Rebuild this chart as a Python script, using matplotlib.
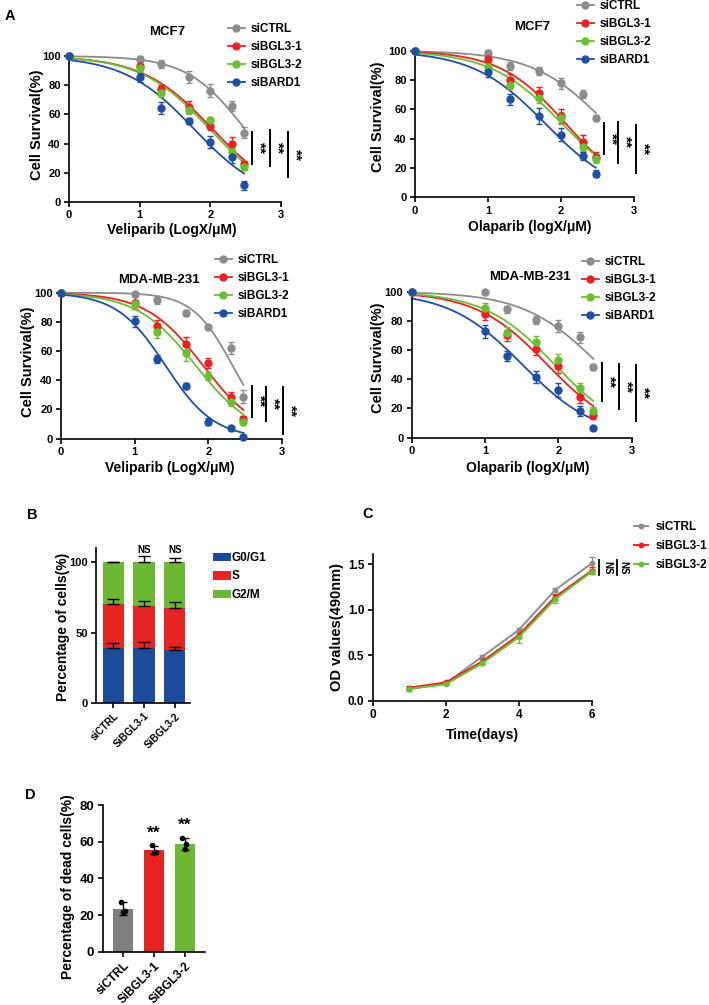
import numpy as np
import matplotlib
matplotlib.use('Agg')
import matplotlib.pyplot as plt
from matplotlib.lines import Line2D

# ---------------- data ----------------
dose_log = [0, 1, 1.301, 1.699, 2, 2.301, 2.477]
series_labels = ['siCTRL', 'siBGL3-1', 'siBGL3-2', 'siBARD1']

# rows: siCTRL, siBGL3-1, siBGL3-2, siBARD1
veli_mcf7 = [[100, 97.9, 94.5, 85.8, 76.2, 65.7, 47.6],
             [100, 93.4, 77.1, 65.2, 52.2, 40.0, 26.3],
             [100, 92.0, 75.0, 63.0, 56.0, 34.0, 24.0],
             [100, 85.4, 64.5, 55.4, 41.2, 30.9, 11.4]]
veli_mcf7_err = [[0.5, 2.0, 3.0, 4.0, 4.5, 3.5, 4.0],
                 [0.5, 2.5, 3.0, 4.0, 3.0, 4.5, 2.0],
                 [0.5, 2.0, 3.0, 3.0, 2.0, 3.0, 2.0],
                 [0.5, 3.0, 4.0, 2.0, 4.0, 4.0, 3.0]]

ola_mcf7 = [[100, 98.6, 89.5, 86.1, 77.7, 70.5, 54.1],
            [100, 94.3, 80.0, 70.9, 55.5, 38.0, 27.7],
            [100, 89.0, 76.6, 67.5, 54.3, 34.5, 26.4],
            [100, 85.7, 66.8, 55.5, 42.7, 28.2, 16.1]]
ola_mcf7_err = [[0.5, 2.0, 2.5, 3.0, 4.0, 3.0, 2.0],
                [0.5, 3.0, 4.0, 4.0, 4.5, 4.5, 3.0],
                [0.5, 3.0, 3.0, 3.0, 4.0, 3.0, 3.0],
                [0.5, 3.5, 4.0, 5.5, 4.5, 3.0, 2.5]]

veli_mda = [[100, 99.0, 95.0, 86.3, 76.5, 61.9, 28.8],
            [100, 93.0, 77.5, 65.0, 51.8, 28.3, 13.5],
            [100, 92.0, 73.0, 58.4, 42.9, 25.3, 11.2],
            [100, 80.3, 54.6, 36.3, 11.6, 7.5, 1.4]]
veli_mda_err = [[0.5, 1.5, 3.0, 2.0, 1.5, 4.0, 4.5],
                [0.5, 4.0, 4.0, 4.5, 3.5, 4.0, 2.0],
                [0.5, 3.0, 4.0, 5.0, 3.0, 3.0, 1.5],
                [0.5, 4.0, 3.0, 2.0, 2.5, 1.5, 1.0]]

ola_mda = [[100, 99.5, 87.9, 80.6, 76.5, 68.7, 48.6],
           [100, 84.5, 70.1, 60.7, 49.1, 28.1, 15.5],
           [100, 88.6, 72.0, 65.3, 53.2, 34.2, 18.3],
           [100, 73.0, 56.2, 41.8, 32.6, 18.3, 6.4]]
ola_mda_err = [[0.5, 1.5, 2.5, 2.5, 4.0, 3.5, 2.0],
               [0.5, 4.0, 4.0, 4.0, 4.5, 4.5, 3.0],
               [0.5, 3.5, 3.5, 4.5, 4.0, 3.0, 3.0],
               [0.5, 4.5, 3.5, 4.0, 5.0, 3.5, 1.0]]

cycle_groups = ['siCTRL', 'SiBGL3-1', 'SiBGL3-2']
cycle_phases = ['G0/G1', 'S', 'G2/M']
g0g1 = [39.2, 38.7, 37.3]
s_phase = [31.1, 30.4, 30.4]
g2m = [29.7, 30.9, 32.3]
g0g1_err = [3.6, 4.5, 2.1]
s_err = [3.3, 3.1, 4.3]
g2m_err = [0.5, 4.8, 2.9]

days = [1, 2, 3, 4, 5, 6]
growth_labels = ['siCTRL', 'siBGL3-1', 'siBGL3-2']
od_ctrl = [0.128, 0.19, 0.483, 0.776, 1.215, 1.507]
od_bgl1 = [0.143, 0.20, 0.43, 0.72, 1.14, 1.427]
od_bgl2 = [0.13, 0.18, 0.41, 0.695, 1.115, 1.416]
od_ctrl_err = [0.02, 0.01, 0.02, 0.02, 0.02, 0.07]
od_bgl1_err = [0.02, 0.02, 0.03, 0.03, 0.03, 0.04]
od_bgl2_err = [0.01, 0.01, 0.02, 0.06, 0.04, 0.03]

dead_groups = ['siCTRL', 'SiBGL3-1', 'SiBGL3-2']
dead_mean = [23.5, 55.6, 58.9]
dead_err = [3.5, 2.3, 3.3]
dead_pts = [[27.0, 22.0, 21.5], [58.2, 54.5, 54.0], [62.2, 58.6, 55.8]]

# ---------------- style ----------------
GREY = '#8c8c8c'
RED = '#e8231f'
GREEN = '#6dbd33'
BLUE = '#1f4fa3'
line_colors = [GREY, RED, GREEN, BLUE]
phase_colors = ['#1c4b9c', '#e52521', '#6cb832']
dead_colors = ['#7f7f7f', '#e8231f', '#6cb832']

plt.rcParams['font.family'] = ['Liberation Sans', 'DejaVu Sans']
plt.rcParams['font.weight'] = 'bold'
plt.rcParams['axes.labelweight'] = 'bold'
plt.rcParams['axes.linewidth'] = 1.2
for a in ('xtick', 'ytick'):
    plt.rcParams[a + '.major.width'] = 1.2
    plt.rcParams[a + '.major.size'] = 3.5
    plt.rcParams[a + '.labelsize'] = 8
    plt.rcParams[a + '.major.pad'] = 2.5

W, H = 709, 1005
fig = plt.figure(figsize=(W / 100, H / 100), dpi=100)


def add_ax(x0, x1, yb, yt):
    ax = fig.add_axes([x0 / W, 1 - yb / H, (x1 - x0) / W, (yb - yt) / H])
    ax.spines['top'].set_visible(False)
    ax.spines['right'].set_visible(False)
    return ax


def fpos(x, y):
    return (x / W, 1 - y / H)


def ftext(x, y, s, **kw):
    fig.text(x / W, 1 - y / H, s, **kw)


def set_labels(ax, xl, xpos, yl, ypos, xfs=10, yfs=10.5):
    if xl is not None:
        ax.set_xlabel(xl, fontsize=xfs, fontweight='bold')
        ax.xaxis.set_label_coords(*fpos(*xpos), transform=fig.transFigure)
        ax.xaxis.label.set_va('center')
    ax.set_ylabel(yl, fontsize=yfs, fontweight='bold')
    ax.yaxis.set_label_coords(*fpos(*ypos), transform=fig.transFigure)
    ax.yaxis.label.set_va('center')
    ax.yaxis.label.set_ha('center')


def noclip(container):
    for part in container.lines:
        if part is None:
            continue
        if isinstance(part, (tuple, list)):
            for p in part:
                p.set_clip_on(False)
        else:
            part.set_clip_on(False)


def logistic(x, c, h):
    return 100.0 / (1.0 + 10.0 ** ((x - c) * h))


def fit_logistic(x, y):
    x = np.asarray(x, float)
    y = np.asarray(y, float)
    cs = np.linspace(0.5, 4.5, 401)
    hs = np.linspace(0.2, 3.0, 281)
    C, Hh = np.meshgrid(cs, hs)
    pred = logistic(x[None, None, :], C[..., None], Hh[..., None])
    sse = ((pred - y[None, None, :]) ** 2).sum(-1)
    i = np.unravel_index(np.argmin(sse), sse.shape)
    return C[i], Hh[i]


def dose_panel(ax, data, err, xlabel, xlab_xy, ylab_xy, title, title_xy,
               legend_xy, sig_x, sig_lo, sig_hi):
    xs = np.array(dose_log)
    xx = np.linspace(0, xs[-1], 200)
    for vals, e, c in zip(data, err, line_colors):
        cc, hh = fit_logistic(xs, vals)
        ax.plot(xx, logistic(xx, cc, hh), color=c, lw=1.3, zorder=2, clip_on=False)
        eb = ax.errorbar(xs, vals, yerr=e, fmt='o', color=c, ms=5, capsize=2.5,
                         elinewidth=1.0, capthick=1.0, zorder=3)
        noclip(eb)
    ax.set_xlim(0, 3)
    ax.set_ylim(0, 100)
    ax.set_xticks([0, 1, 2, 3])
    ax.set_yticks([0, 20, 40, 60, 80, 100])
    set_labels(ax, xlabel, xlab_xy, 'Cell Survival(%)', ylab_xy)
    ftext(*title_xy, title, fontsize=9.5, fontweight='bold', ha='center', va='center')
    handles = [Line2D([], [], color=c, marker='o', ms=5, lw=1.3) for c in line_colors]
    ax.legend(handles, series_labels, loc='upper left', bbox_to_anchor=fpos(*legend_xy),
              bbox_transform=fig.transFigure, frameon=False, fontsize=8.5,
              handlelength=1.4, handletextpad=0.5, labelspacing=0.5,
              borderpad=0, borderaxespad=0)
    for sx, lo, hi in zip(sig_x, sig_lo, sig_hi):
        ax.plot([sx, sx], [lo, hi], color='black', lw=1.4, clip_on=False)
        ax.text(sx + 0.1, (lo + hi) / 2, '**', rotation=270, ha='center', va='center',
                fontsize=11, fontweight='bold', clip_on=False)


# ---------------- Panel A ----------------
ax1 = add_ax(69, 281, 202, 56)
dose_panel(ax1, veli_mcf7, veli_mcf7_err, 'Veliparib (LogX/μM)', (172, 230), (37, 125),
           'MCF7', (167, 32), (228, 23),
           [2.59, 2.845, 3.10], [26.0, 24.7, 17.1], [47.9, 49.3, 47.9])

ax2 = add_ax(415, 634, 197.3, 50.7)
dose_panel(ax2, ola_mcf7, ola_mcf7_err, 'Olaparib (logX/μM)', (530, 227), (378, 117),
           'MCF7', (532, 27), (577, 0),
           [2.59, 2.78, 3.03], [29.5, 23.4, 16.6], [50.7, 51.4, 49.3])

ax3 = add_ax(61, 282, 438.7, 292.7)
dose_panel(ax3, veli_mda, veli_mda_err, 'Veliparib (LogX/μM)', (170, 468), (28, 362),
           'MDA-MB-231', (159, 280), (215, 254),
           [2.59, 2.78, 3.01], [14.9, 11.8, 3.2], [36.3, 35.6, 35.4])

ax4 = add_ax(411.7, 631.7, 437.7, 291.7)
dose_panel(ax4, ola_mda, ola_mda_err, 'Olaparib (logX/μM)', (528, 468), (378, 358),
           'MDA-MB-231', (530, 277), (582, 256),
           [2.60, 2.83, 3.06], [25.1, 19.6, 11.4], [51.4, 50.5, 49.8])

ftext(5, 16, 'A', fontsize=10.5, fontweight='bold', ha='left', va='center')

# ---------------- Panel B ----------------
axb = add_ax(96, 190, 702.7, 548.3)
xb = np.arange(len(cycle_groups))
bot = np.zeros(len(cycle_groups))
for vals, errs, c, lab in zip([g0g1, s_phase, g2m], [g0g1_err, s_err, g2m_err],
                              phase_colors, cycle_phases):
    vals = np.array(vals)
    axb.bar(xb, vals, bottom=bot, width=0.69, color=c, label=lab, zorder=2)
    top = bot + vals
    axb.errorbar(xb, top, yerr=[np.zeros_like(top), errs], fmt='none', ecolor='black',
                 elinewidth=1.0, capsize=4, capthick=1.0, zorder=3)
    bot = top
axb.set_xlim(-0.56, 2.5)
axb.set_ylim(0, 110)
axb.set_yticks([0, 50, 100])
axb.set_xticks(xb)
axb.set_xticklabels(cycle_groups, rotation=45, ha='right', rotation_mode='anchor', fontsize=7.2)
set_labels(axb, None, None, 'Percentage of cells(%)', (63, 627), yfs=10)
for i in (1, 2):
    axb.text(xb[i], 108.5, 'NS', ha='center', va='center', fontsize=7, fontweight='bold')
axb.legend(loc='upper left', bbox_to_anchor=fpos(213, 552), bbox_transform=fig.transFigure,
           frameon=False, fontsize=8.5, handlelength=1.5, handleheight=0.75,
           handletextpad=0.1, labelspacing=0.55, borderpad=0, borderaxespad=0)
ftext(27, 515, 'B', fontsize=10.5, fontweight='bold', ha='left', va='center')

# ---------------- Panel C ----------------
axc = add_ax(372.7, 591.7, 700.7, 554)
for vals, errs, c in zip([od_ctrl, od_bgl1, od_bgl2], [od_ctrl_err, od_bgl1_err, od_bgl2_err],
                         [GREY, RED, GREEN]):
    eb = axc.errorbar(days, vals, yerr=errs, fmt='-o', color=c, ms=3.2, lw=1.4,
                      elinewidth=0.9, capsize=2.5, capthick=0.9)
    noclip(eb)
axc.set_xlim(0, 6)
axc.set_ylim(0, 1.61)
axc.set_xticks([0, 2, 4, 6])
axc.set_yticks([0, 0.5, 1.0, 1.5])
axc.set_yticklabels(['0.0', '0.5', '1.0', '1.5'])
axc.tick_params(labelsize=8.5)
set_labels(axc, 'Time(days)', (482, 735), 'OD values(490nm)', (337, 627), xfs=10, yfs=10.5)
for sx, tx in ((6.2, 6.42), (6.68, 6.88)):
    axc.plot([sx, sx], [1.38, 1.545], color='black', lw=1.3, clip_on=False)
    axc.text(tx, 1.462, 'NS', rotation=270, ha='center', va='center', fontsize=7,
             fontweight='bold', clip_on=False)
handles = [Line2D([], [], color=c, marker='o', ms=3.2, lw=1.4) for c in (GREY, RED, GREEN)]
axc.legend(handles, growth_labels, loc='upper left', bbox_to_anchor=fpos(634, 521),
           bbox_transform=fig.transFigure, frameon=False, fontsize=8.5, handlelength=1.2,
           handletextpad=0.6, labelspacing=0.6, borderpad=0, borderaxespad=0)
ftext(362, 514, 'C', fontsize=10.5, fontweight='bold', ha='left', va='center')

# ---------------- Panel D ----------------
axd = add_ax(102.7, 205, 951.7, 805)
xd = np.arange(len(dead_groups))
axd.bar(xd, dead_mean, width=0.65, color=dead_colors, zorder=2)
axd.errorbar(xd, dead_mean, yerr=dead_err, fmt='none', ecolor='black', elinewidth=1.0,
             capsize=3, capthick=1.0, zorder=3)
offs = [-0.08, 0.05, 0.0]
for i, pts in enumerate(dead_pts):
    axd.plot(xd[i] + np.array(offs), pts, 'o', color='black', ms=3, zorder=4)
axd.set_xlim(-0.67, 2.66)
axd.set_ylim(0, 80)
axd.set_yticks([0, 20, 40, 60, 80])
axd.tick_params(axis='y', labelsize=9.5)
axd.set_xticks(xd)
axd.set_xticklabels(dead_groups, rotation=45, ha='right', rotation_mode='anchor', fontsize=8.5)
set_labels(axd, None, None, 'Percentage of dead cells(%)', (68, 887), yfs=10)
axd.text(1, 64.5, '**', ha='center', va='center', fontsize=12.5, fontweight='bold')
axd.text(2, 69, '**', ha='center', va='center', fontsize=12.5, fontweight='bold')
ftext(25, 795, 'D', fontsize=10.5, fontweight='bold', ha='left', va='center')

fig.savefig('out.png', dpi=100)
